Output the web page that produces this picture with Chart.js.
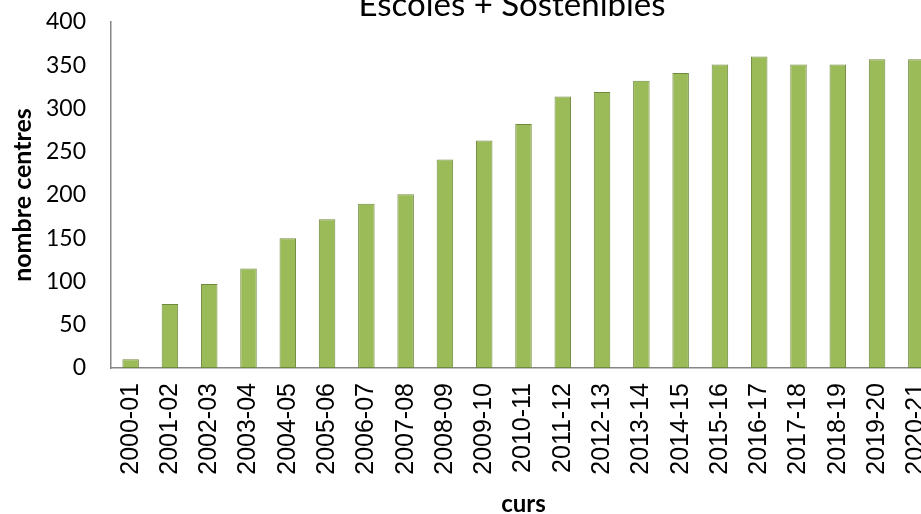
<!DOCTYPE html>
<html>
<head>
<meta charset="utf-8">
<script src="https://cdn.jsdelivr.net/npm/chart.js@4/dist/chart.umd.min.js"></script>
<style>
  html, body { margin: 0; padding: 0; background: #fff; overflow: hidden; width: 921px; height: 514px; }
  #wrap { position: absolute; left: 0; top: -24px; width: 1024px; height: 560px; }
</style>
</head>
<body>
<div id="wrap"><canvas id="chart"></canvas></div>
<script>
// curs escolars i nombre de centres (llegits de la imatge)
const cursos = [
  '2000-01','2001-02','2002-03','2003-04','2004-05','2005-06','2006-07',
  '2007-08','2008-09','2009-10','2010-11','2011-12','2012-13','2013-14',
  '2014-15','2015-16','2016-17','2017-18','2018-19','2019-20','2020-21'
];
const centres = [10, 74, 97, 115, 150, 172, 190, 201, 241, 263, 282, 314, 319, 332, 341, 351, 360, 351, 351, 357, 357];
const yTicks = [0, 50, 100, 150, 200, 250, 300, 350, 400];

const axisGrey = '#868686';

const ctx = document.getElementById('chart').getContext('2d');
new Chart(ctx, {
  type: 'bar',
  data: {
    labels: cursos,
    datasets: [{
      label: 'nombre centres',
      data: centres,
      backgroundColor: '#9bbb59',
      borderColor: '#71893f',
      borderWidth: 1,
      borderSkipped: false,
      barPercentage: 0.42,
      categoryPercentage: 1.0,
    }]
  },
  options: {
    responsive: true,
    maintainAspectRatio: false,
    animation: false,
    layout: { padding: 0 },
    plugins: {
      legend: { display: false },
      tooltip: { enabled: false },
      title: {
        display: true,
        text: 'Escoles + Sostenibles',
        color: '#000',
        font: { family: 'Lato', size: 33, weight: 'normal', lineHeight: 1.0 },
        padding: { top: 13, bottom: 0 }
      }
    },
    scales: {
      x: {
        grid: { display: false, drawTicks: false },
        border: { display: true, color: axisGrey, width: 1.5 },
        ticks: {
          color: '#000',
          font: { family: 'Liberation Sans', size: 25 },
          maxRotation: 90, minRotation: 90,
          autoSkip: false,
          padding: 15
        },
        title: {
          display: true,
          text: 'curs',
          color: '#000',
          font: { family: 'Lato', size: 24, weight: 'bold' },
          padding: { top: 0, bottom: 17 }
        },
        afterFit: (s) => { s.height = 168; }
      },
      y: {
        min: 0, max: 400,
        afterBuildTicks: (s) => { s.ticks = yTicks.map(v => ({ value: v })); },
        grid: { display: false, drawTicks: false },
        border: { display: true, color: axisGrey, width: 1.5 },
        ticks: {
          color: '#000',
          font: { family: 'Lato', size: 23 },
          padding: 25
        },
        title: {
          display: true,
          text: 'nombre centres',
          color: '#000',
          font: { family: 'Lato', size: 25, weight: 'bold' },
          padding: { top: 8, bottom: 0 }
        },
        afterFit: (s) => { s.width = 111; }
      },
      // empty right-hand space so the plot ends where the original does
      spacer: {
        type: 'linear',
        position: 'right',
        display: true,
        grid: { display: false, drawTicks: false },
        border: { display: false },
        ticks: { display: false },
        afterFit: (s) => { s.width = 88; }
      }
    }
  }
});
</script>
</body>
</html>
